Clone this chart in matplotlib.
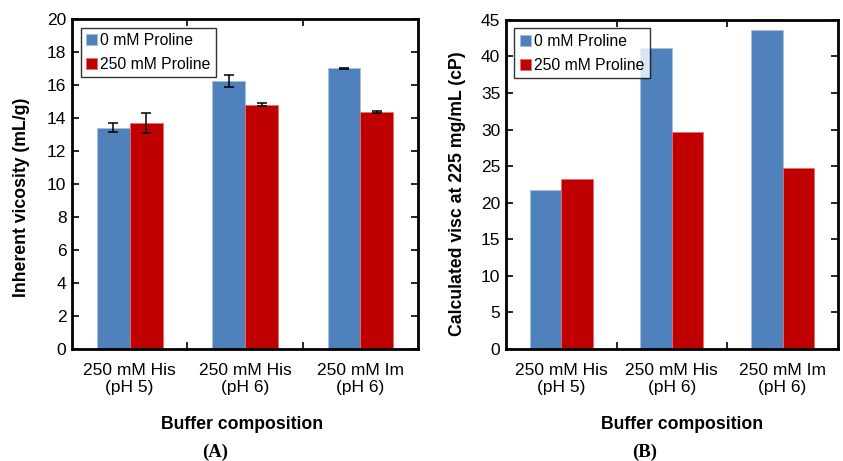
import numpy as np
import matplotlib.pyplot as plt
from matplotlib.ticker import MultipleLocator, FixedLocator

plt.rcParams['font.family'] = ['Liberation Sans', 'DejaVu Sans']

#data
buffers = ['250 mM His\n(pH 5)', '250 mM His\n(pH 6)', '250 mM Im\n(pH 6)']
series = ['0 mM Proline', '250 mM Proline']
inh_visc_0 = [13.4, 16.25, 17.0]
inh_visc_0_err = [0.28, 0.35, 0.04]
inh_visc_250 = [13.7, 14.8, 14.35]
inh_visc_250_err = [0.6, 0.1, 0.08]
calc_visc_0 = [21.7, 41.2, 43.6]
calc_visc_250 = [23.3, 29.7, 24.7]

blue = '#4f81bd'
red = '#c00000'
width = 0.285

fig = plt.figure(figsize=(8.43, 4.61), dpi=100)
ax_a = fig.add_axes([0.0854, 0.243, 0.4106, 0.716])
ax_b = fig.add_axes([0.600, 0.243, 0.394, 0.714])

def draw_panel(ax, v0, v250, e0, e250, ylim, ystep, ylabel, ylab_xy, xlab_x):
    x = np.arange(len(buffers))
    ekw = dict(ecolor='black', capsize=3.5, elinewidth=1.1, capthick=1.1)
    ax.bar(x - width/2, v0, width, color=blue, edgecolor='#a7c0de', linewidth=0.6,
           label=series[0], yerr=e0, error_kw=ekw)
    ax.bar(x + width/2, v250, width, color=red, edgecolor='#e07070', linewidth=0.6,
           label=series[1], yerr=e250, error_kw=ekw)
    ax.set_xlim(-0.5, len(buffers) - 0.5)
    ax.set_ylim(*ylim)
    ax.yaxis.set_major_locator(MultipleLocator(ystep))
    #ticks sit between the groups, labels at the group centres
    ax.xaxis.set_major_locator(FixedLocator([0.5, 1.5]))
    ax.xaxis.set_minor_locator(FixedLocator(x))
    ax.set_xticklabels([])
    ax.set_xticklabels(buffers, minor=True, fontsize=12.5, linespacing=1.2)
    ax.tick_params(axis='x', which='minor', length=0, pad=10)
    ax.tick_params(axis='x', which='major', direction='in', top=True, length=5, width=1.2)
    ax.tick_params(axis='y', direction='in', right=True, length=5, width=1.2, labelsize=12.5, pad=4)
    for s in ax.spines.values():
        s.set_linewidth(2)
    ax.set_ylabel(ylabel, fontsize=12.7, fontweight='bold')
    ax.yaxis.set_label_coords(*ylab_xy)
    ax.set_xlabel('Buffer composition', fontsize=12.7, fontweight='bold', labelpad=15)
    ax.xaxis.label.set_x(xlab_x)
    leg = ax.legend(loc='upper left', fontsize=11.3, frameon=True, fancybox=False, edgecolor='black',
                    handlelength=0.7, handleheight=0.7, handletextpad=0.2, borderpad=0.35,
                    borderaxespad=0.55, labelspacing=0.55)
    leg.get_frame().set_linewidth(1)

draw_panel(ax_a, inh_visc_0, inh_visc_250, inh_visc_0_err, inh_visc_250_err,
           (0, 20), 2, 'Inherent vicosity (mL/g)', (-0.12, 0.46), 0.49)
draw_panel(ax_b, calc_visc_0, calc_visc_250, None, None,
           (0, 45), 5, 'Calculated visc at 225 mg/mL (cP)', (-0.12, 0.473), 0.53)

fig.text(215/843, 1 - 452/461, '(A)', ha='center', va='center', fontsize=13.5, fontweight='bold',
         family='Liberation Serif')
fig.text(645/843, 1 - 452/461, '(B)', ha='center', va='center', fontsize=13.5, fontweight='bold',
         family='Liberation Serif')

fig.savefig('out.png', dpi=100)
